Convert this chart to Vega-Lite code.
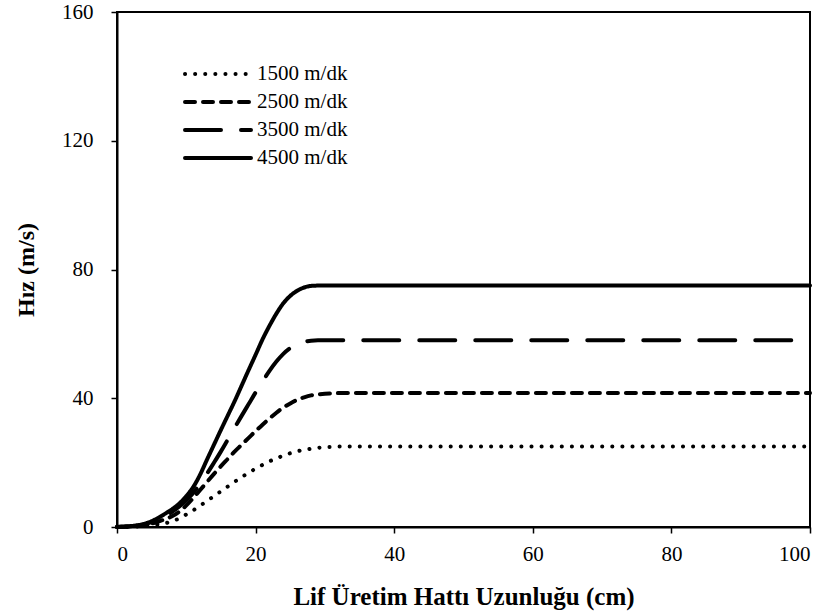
{
  "$schema": "https://vega.github.io/schema/vega-lite/v6.json",
  "width": 693,
  "height": 515,
  "autosize": "none",
  "padding": {"left": 117, "top": 12, "right": 20, "bottom": 89},
  "background": "white",
  "config": {
    "font": "Liberation Serif",
    "view": {"stroke": "black", "strokeWidth": 2},
    "axis": {
      "grid": false,
      "domainColor": "black",
      "domainWidth": 2,
      "tickColor": "black",
      "tickWidth": 1.5,
      "tickSize": 6,
      "labelFont": "Liberation Serif",
      "labelFontSize": 21,
      "labelColor": "black",
      "titleFont": "Liberation Serif",
      "titleFontWeight": "bold",
      "titleColor": "black"
    }
  },
  "datasets": {
    "curves": [
      {"x":0,"v":0,"s":"1500 m/dk"},{"x":1,"v":0,"s":"1500 m/dk"},{"x":2,"v":0.1,"s":"1500 m/dk"},{"x":3,"v":0.2,"s":"1500 m/dk"},{"x":4,"v":0.3,"s":"1500 m/dk"},{"x":5,"v":0.5,"s":"1500 m/dk"},{"x":6,"v":0.8,"s":"1500 m/dk"},{"x":7,"v":1.2,"s":"1500 m/dk"},{"x":8,"v":1.8,"s":"1500 m/dk"},{"x":9,"v":2.7,"s":"1500 m/dk"},{"x":10,"v":3.9,"s":"1500 m/dk"},{"x":11,"v":5.2,"s":"1500 m/dk"},{"x":12,"v":6.6,"s":"1500 m/dk"},{"x":13,"v":8.1,"s":"1500 m/dk"},{"x":14,"v":9.6,"s":"1500 m/dk"},{"x":15,"v":11.1,"s":"1500 m/dk"},{"x":16,"v":12.6,"s":"1500 m/dk"},{"x":17,"v":14.1,"s":"1500 m/dk"},{"x":18,"v":15.5,"s":"1500 m/dk"},{"x":19,"v":16.9,"s":"1500 m/dk"},{"x":20,"v":18.1,"s":"1500 m/dk"},{"x":21,"v":19.3,"s":"1500 m/dk"},{"x":22,"v":20.4,"s":"1500 m/dk"},{"x":23,"v":21.3,"s":"1500 m/dk"},{"x":24,"v":22.2,"s":"1500 m/dk"},{"x":25,"v":22.9,"s":"1500 m/dk"},{"x":26,"v":23.5,"s":"1500 m/dk"},{"x":27,"v":24,"s":"1500 m/dk"},{"x":28,"v":24.3,"s":"1500 m/dk"},{"x":29,"v":24.6,"s":"1500 m/dk"},{"x":30,"v":24.8,"s":"1500 m/dk"},{"x":31,"v":24.9,"s":"1500 m/dk"},{"x":32,"v":25,"s":"1500 m/dk"},{"x":100,"v":25,"s":"1500 m/dk"},
      {"x":0,"v":0,"s":"2500 m/dk"},{"x":1,"v":0.1,"s":"2500 m/dk"},{"x":2,"v":0.2,"s":"2500 m/dk"},{"x":3,"v":0.4,"s":"2500 m/dk"},{"x":4,"v":0.7,"s":"2500 m/dk"},{"x":5,"v":1.1,"s":"2500 m/dk"},{"x":6,"v":1.7,"s":"2500 m/dk"},{"x":7,"v":2.5,"s":"2500 m/dk"},{"x":8,"v":3.4,"s":"2500 m/dk"},{"x":9,"v":4.8,"s":"2500 m/dk"},{"x":10,"v":6.7,"s":"2500 m/dk"},{"x":11,"v":9,"s":"2500 m/dk"},{"x":12,"v":11.5,"s":"2500 m/dk"},{"x":13,"v":14,"s":"2500 m/dk"},{"x":14,"v":16.5,"s":"2500 m/dk"},{"x":15,"v":18.9,"s":"2500 m/dk"},{"x":16,"v":21.2,"s":"2500 m/dk"},{"x":17,"v":23.5,"s":"2500 m/dk"},{"x":18,"v":25.6,"s":"2500 m/dk"},{"x":19,"v":27.7,"s":"2500 m/dk"},{"x":20,"v":29.8,"s":"2500 m/dk"},{"x":21,"v":31.8,"s":"2500 m/dk"},{"x":22,"v":33.7,"s":"2500 m/dk"},{"x":23,"v":35.5,"s":"2500 m/dk"},{"x":24,"v":37.1,"s":"2500 m/dk"},{"x":25,"v":38.4,"s":"2500 m/dk"},{"x":26,"v":39.5,"s":"2500 m/dk"},{"x":27,"v":40.3,"s":"2500 m/dk"},{"x":28,"v":40.9,"s":"2500 m/dk"},{"x":29,"v":41.2,"s":"2500 m/dk"},{"x":30,"v":41.4,"s":"2500 m/dk"},{"x":31,"v":41.5,"s":"2500 m/dk"},{"x":32,"v":41.6,"s":"2500 m/dk"},{"x":100,"v":41.6,"s":"2500 m/dk"},
      {"x":0,"v":0,"s":"3500 m/dk"},{"x":1,"v":0.1,"s":"3500 m/dk"},{"x":2,"v":0.2,"s":"3500 m/dk"},{"x":3,"v":0.5,"s":"3500 m/dk"},{"x":4,"v":0.9,"s":"3500 m/dk"},{"x":5,"v":1.5,"s":"3500 m/dk"},{"x":6,"v":2.4,"s":"3500 m/dk"},{"x":7,"v":3.5,"s":"3500 m/dk"},{"x":8,"v":4.8,"s":"3500 m/dk"},{"x":9,"v":6.4,"s":"3500 m/dk"},{"x":10,"v":8.3,"s":"3500 m/dk"},{"x":11,"v":10.6,"s":"3500 m/dk"},{"x":12,"v":13.4,"s":"3500 m/dk"},{"x":13,"v":16.6,"s":"3500 m/dk"},{"x":14,"v":20,"s":"3500 m/dk"},{"x":15,"v":23.5,"s":"3500 m/dk"},{"x":16,"v":27.2,"s":"3500 m/dk"},{"x":17,"v":30.9,"s":"3500 m/dk"},{"x":18,"v":34.6,"s":"3500 m/dk"},{"x":19,"v":38.2,"s":"3500 m/dk"},{"x":20,"v":41.8,"s":"3500 m/dk"},{"x":21,"v":45.2,"s":"3500 m/dk"},{"x":22,"v":48.5,"s":"3500 m/dk"},{"x":23,"v":51.4,"s":"3500 m/dk"},{"x":24,"v":53.8,"s":"3500 m/dk"},{"x":25,"v":55.6,"s":"3500 m/dk"},{"x":26,"v":56.8,"s":"3500 m/dk"},{"x":27,"v":57.5,"s":"3500 m/dk"},{"x":28,"v":57.9,"s":"3500 m/dk"},{"x":29,"v":58,"s":"3500 m/dk"},{"x":30,"v":58,"s":"3500 m/dk"},{"x":100,"v":58,"s":"3500 m/dk"},
      {"x":0,"v":0,"s":"4500 m/dk"},{"x":1,"v":0.1,"s":"4500 m/dk"},{"x":2,"v":0.3,"s":"4500 m/dk"},{"x":3,"v":0.5,"s":"4500 m/dk"},{"x":4,"v":1,"s":"4500 m/dk"},{"x":5,"v":1.8,"s":"4500 m/dk"},{"x":6,"v":2.9,"s":"4500 m/dk"},{"x":7,"v":4.2,"s":"4500 m/dk"},{"x":8,"v":5.6,"s":"4500 m/dk"},{"x":9,"v":7.3,"s":"4500 m/dk"},{"x":10,"v":9.6,"s":"4500 m/dk"},{"x":11,"v":12.4,"s":"4500 m/dk"},{"x":12,"v":16.3,"s":"4500 m/dk"},{"x":13,"v":21,"s":"4500 m/dk"},{"x":14,"v":25.6,"s":"4500 m/dk"},{"x":15,"v":30.2,"s":"4500 m/dk"},{"x":16,"v":34.7,"s":"4500 m/dk"},{"x":17,"v":39.2,"s":"4500 m/dk"},{"x":18,"v":44,"s":"4500 m/dk"},{"x":19,"v":48.8,"s":"4500 m/dk"},{"x":20,"v":53.5,"s":"4500 m/dk"},{"x":21,"v":58.3,"s":"4500 m/dk"},{"x":22,"v":62.5,"s":"4500 m/dk"},{"x":23,"v":66.3,"s":"4500 m/dk"},{"x":24,"v":69.5,"s":"4500 m/dk"},{"x":25,"v":71.8,"s":"4500 m/dk"},{"x":26,"v":73.4,"s":"4500 m/dk"},{"x":27,"v":74.4,"s":"4500 m/dk"},{"x":28,"v":74.9,"s":"4500 m/dk"},{"x":29,"v":75,"s":"4500 m/dk"},{"x":30,"v":75,"s":"4500 m/dk"},{"x":100,"v":75,"s":"4500 m/dk"}
    ]
  },
  "data": {"name": "curves"},
  "mark": {"type": "line", "color": "black", "strokeWidth": 4, "strokeCap": "round", "interpolate": "monotone"},
  "encoding": {
    "x": {
      "field": "x", "type": "quantitative",
      "scale": {"domain": [0, 100], "nice": false},
      "axis": {"values": [0, 20, 40, 60, 80, 100], "title": "Lif Üretim Hattı Uzunluğu (cm)", "titleFontSize": 25, "labelPadding": 10, "titlePadding": 20}
    },
    "y": {
      "field": "v", "type": "quantitative",
      "scale": {"domain": [0, 160], "nice": false},
      "axis": {"values": [0, 40, 80, 120, 160], "title": "Hız (m/s)", "titleFontSize": 24, "labelPadding": 18, "titlePadding": 23}
    },
    "strokeDash": {
      "field": "s", "type": "nominal",
      "scale": {
        "domain": ["1500 m/dk", "2500 m/dk", "3500 m/dk", "4500 m/dk"],
        "range": [[0.1, 10], [10, 8], [36, 20], [1, 0]]
      },
      "legend": {
        "title": null,
        "orient": "none",
        "legendX": 66,
        "legendY": 54,
        "symbolType": "stroke",
        "symbolSize": 4356,
        "symbolStrokeWidth": 4,
        "symbolStrokeColor": "black",
        "clipHeight": 16,
        "rowPadding": 7,
        "labelOffset": 4,
        "labelFont": "Liberation Serif",
        "labelFontSize": 21,
        "labelColor": "black",
        "encode": {"symbols": {"update": {"strokeCap": {"value": "round"}}}}
      }
    }
  }
}
